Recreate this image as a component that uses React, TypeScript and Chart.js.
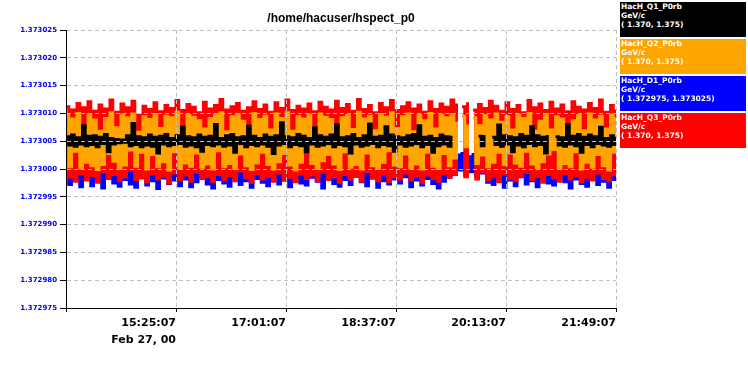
import React, { useEffect, useRef } from "react";
import { Chart, registerables } from "chart.js";

Chart.register(...registerables);

const chartTitle = "/home/hacuser/hspect_p0";

// sampling grid: 13:49:07 .. 21:49:07 (seconds of day), one sample every 144 s
const sampleStartSec = 49747;
const sampleStepSec = 144;
const xMinSec = 49747;
const xMaxSec = 78547;

const xTickValues = [49747, 55507, 61267, 67027, 72787, 78547];
const xTickLabels = ["", "15:25:07", "17:01:07", "18:37:07", "20:13:07", "21:49:07"];
const xDateLabel = "Feb 27, 00";

const yTickValues = [
  1.372975, 1.37298, 1.372985, 1.37299, 1.372995, 1.373, 1.373005, 1.37301, 1.373015, 1.37302, 1.373025,
];
const yMin = 1.372975;
const yMax = 1.373025;

const legendNames = ["HacH_Q1_P0rb", "HacH_Q2_P0rb", "HacH_D1_P0rb", "HacH_Q3_P0rb"];
const legendUnits = ["GeV/c", "GeV/c", "GeV/c", "GeV/c"];
const legendRanges = ["( 1.370, 1.375)", "( 1.370, 1.375)", "( 1.372975, 1.373025)", "( 1.370, 1.375)"];
const legendColors = ["#000000", "#ffa500", "#0000ff", "#ff0000"];

const q1Values = [
  1.3730058, 1.3730043, 1.3730061, 1.3730041, 1.3730056, 1.3730045, 1.3730078, 1.3730042, 1.3730059, 1.3730044,
  1.3730060, 1.3730040, 1.3730057, 1.3730046, 1.3730062, 1.3730031, 1.3730055, 1.3730045, 1.3730053, 1.3730047,
  1.3730052, 1.3730048, 1.3730060, 1.3730042, 1.3730082, 1.3730044, 1.3730058, 1.3730040, 1.3730056, 1.3730043,
  1.3730061, 1.3730041, 1.3730057, 1.3730029, 1.3730059, 1.3730045, 1.3730062, 1.3730042, 1.3730055, 1.3730044,
  1.3730060, 1.3730046, 1.3730075, 1.3730041, 1.3730058, 1.3730043, 1.3730056, 1.3730040, 1.3730061, 1.3730032,
  1.3730057, 1.3730044, 1.3730059, 1.3730042, 1.3730080, 1.3730045, 1.3730055, 1.3730041, 1.3730060, 1.3730043,
  1.3730062, 1.3730030, 1.3730056, 1.3730046, 1.3730058, 1.3730040, 1.3730077, 1.3730044, 1.3730059, 1.3730042,
  1.3730055, 1.3730045, 1.3730061, 1.3730041, 1.3730057, 1.3730028, 1.3730060, 1.3730043, 1.3730083, 1.3730046,
  1.3730058, 1.3730040, 1.3730056, 1.3730044, 1.3730062, 1.3730042, 1.3730059, 1.3730031, 1.3730055, 1.3730045,
  1.3730074, 1.3730041, 1.3730060, 1.3730043, 1.3730057, 1.3730046, 1.3730061, 1.3730040, 1.3730079, 1.3730044,
  1.3730056, 1.3730042, 1.3730058, 1.3730029, 1.3730062, 1.3730045, 1.3730055, 1.3730041, 1.3730060, 1.3730043,
  1.3730081, 1.3730046, 1.3730057, 1.3730040, 1.3730059, 1.3730044, 1.3730076, 1.3730042, 1.3730061, 1.3730032,
  1.3730058, 1.3730045, 1.3730056, 1.3730041, 1.3730060, 1.3730043, 1.3730062, 1.3730046, 1.3730078, 1.3730040,
  1.3730057, 1.3730044, 1.3730059, 1.3730030, 1.3730055, 1.3730042, 1.3730061, 1.3730045, 1.3730058, 1.3730041,
  1.3730060, null, null, null, null, null, null, null, null, null,
  1.3730059, 1.3730042, 1.3730061, null, null, 1.3730057, 1.3730044, 1.3730079, 1.3730041, 1.3730060,
  1.3730045, 1.3730058, 1.3730031, 1.3730056, 1.3730043, 1.3730062, 1.3730040, 1.3730059, 1.3730046, 1.3730076,
  1.3730042, 1.3730060, 1.3730044, 1.3730057, 1.3730029, 1.3730061, null, null, 1.3730058, 1.3730043,
  1.3730056, 1.3730041, 1.3730080, 1.3730045, 1.3730059, 1.3730042, 1.3730062, 1.3730030, 1.3730057, 1.3730044,
  1.3730061, 1.3730040, 1.3730058, 1.3730046, 1.3730075, 1.3730043, 1.3730055, 1.3730041, 1.3730060, 1.3730044,
  1.3730058,
];

const q2Values = [
  1.3730096, 1.3730004, 1.3730090, 1.3730032, 1.3730100, 1.3730002, 1.3730071, 1.3730012, 1.3730098, 1.3730006,
  1.3730088, 1.3729999, 1.3730068, 1.3730008, 1.3730091, 1.3730028, 1.3730101, 1.3730014, 1.3730074, 1.3730001,
  1.3730097, 1.3730007, 1.3730092, 1.3730034, 1.3730099, 1.3730005, 1.3730066, 1.3730030, 1.3730094, 1.3730000,
  1.3730089, 1.3730026, 1.3730098, 1.3730004, 1.3730073, 1.3730013, 1.3730095, 1.3729998, 1.3730092, 1.3730031,
  1.3730102, 1.3730002, 1.3730069, 1.3730011, 1.3730096, 1.3730005, 1.3730093, 1.3730029, 1.3730087, 1.3730003,
  1.3730072, 1.3730009, 1.3730091, 1.3730000, 1.3730097, 1.3730033, 1.3730101, 1.3730004, 1.3730067, 1.3730010,
  1.3730094, 1.3730001, 1.3730098, 1.3730027, 1.3730086, 1.3730006, 1.3730075, 1.3729999, 1.3730100, 1.3730011,
  1.3730089, 1.3730030, 1.3730095, 1.3730008, 1.3730070, 1.3730000, 1.3730099, 1.3730013, 1.3730091, 1.3730028,
  1.3730101, 1.3730007, 1.3730068, 1.3729998, 1.3730094, 1.3730012, 1.3730090, 1.3730032, 1.3730097, 1.3730010,
  1.3730074, 1.3730001, 1.3730099, 1.3730015, 1.3730093, 1.3730026, 1.3730089, 1.3730009, 1.3730066, 1.3729999,
  1.3730092, 1.3730031, 1.3730096, 1.3730003, 1.3730071, 1.3730008, 1.3730102, 1.3730000, 1.3730090, 1.3730029,
  1.3730095, 1.3730006, 1.3730069, 1.3730001, 1.3730098, 1.3730012, 1.3730093, 1.3730033, 1.3730101, 1.3730007,
  1.3730073, 1.3730004, 1.3730094, 1.3730027, 1.3730099, 1.3730002, 1.3730067, 1.3730009, 1.3730096, 1.3730000,
  1.3730087, 1.3730030, 1.3730100, 1.3730005, 1.3730072, 1.3730001, 1.3730097, 1.3730028, 1.3730092, 1.3730006,
  1.3730098, 1.3730020, 1.3730085, null, 1.3730095, 1.3730040, 1.3730080, null, 1.3730092, 1.3730010,
  1.3730078, 1.3730025, 1.3730096, 1.3730004, 1.3730088, 1.3730012, 1.3730099, 1.3730030, 1.3730084, 1.3730008,
  1.3730094, 1.3730029, 1.3730070, 1.3730011, 1.3730097, 1.3730005, 1.3730091, 1.3730032, 1.3730100, 1.3730009,
  1.3730068, 1.3730002, 1.3730086, 1.3730013, 1.3730098, 1.3730027, 1.3730070, 1.3730035, 1.3730094, 1.3730001,
  1.3730090, 1.3730010, 1.3730073, 1.3730004, 1.3730087, 1.3730031, 1.3730096, 1.3730000, 1.3730069, 1.3730012,
  1.3730099, 1.3730003, 1.3730088, 1.3730026, 1.3730095, 1.3730006, 1.3730072, 1.3729998, 1.3730097, 1.3730030,
  1.3730093,
];

const d1Values = [
  1.3730050, 1.3729972, 1.3730045, 1.3729980, 1.3730060, 1.3729968, 1.3730048, 1.3729985, 1.3730055, 1.3729970,
  1.3730042, 1.3729978, 1.3730058, 1.3729966, 1.3730050, 1.3729983, 1.3730047, 1.3729975, 1.3730062, 1.3729969,
  1.3730044, 1.3729981, 1.3730053, 1.3729973, 1.3730049, 1.3729967, 1.3730057, 1.3729986, 1.3730046, 1.3729971,
  1.3730059, 1.3729979, 1.3730043, 1.3729965, 1.3730051, 1.3729984, 1.3730056, 1.3729974, 1.3730048, 1.3729980,
  1.3730061, 1.3729970, 1.3730045, 1.3729982, 1.3730054, 1.3729968, 1.3730050, 1.3729977, 1.3730058, 1.3729987,
  1.3730047, 1.3729973, 1.3730063, 1.3729966, 1.3730052, 1.3729981, 1.3730044, 1.3729975, 1.3730057, 1.3729969,
  1.3730049, 1.3729984, 1.3730055, 1.3729972, 1.3730046, 1.3729979, 1.3730060, 1.3729967, 1.3730051, 1.3729983,
  1.3730043, 1.3729976, 1.3730058, 1.3729970, 1.3730048, 1.3729986, 1.3730054, 1.3729973, 1.3730062, 1.3729980,
  1.3730045, 1.3729968, 1.3730052, 1.3729982, 1.3730059, 1.3729975, 1.3730047, 1.3729971, 1.3730056, 1.3729985,
  1.3730050, 1.3729978, 1.3730044, 1.3729966, 1.3730061, 1.3729983, 1.3730053, 1.3729974, 1.3730046, 1.3729969,
  1.3730057, 1.3729981, 1.3730049, 1.3729972, 1.3730055, 1.3729987, 1.3730042, 1.3729977, 1.3730060, 1.3729970,
  1.3730051, 1.3729984, 1.3730058, 1.3729967, 1.3730046, 1.3729979, 1.3730063, 1.3729973, 1.3730048, 1.3729982,
  1.3730054, 1.3729975, 1.3730043, 1.3729986, 1.3730059, 1.3729968, 1.3730050, 1.3729980, 1.3730056, 1.3729971,
  1.3730047, 1.3729983, 1.3730061, 1.3729974, 1.3730052, 1.3729966, 1.3730045, 1.3729978, 1.3730057, 1.3729985,
  1.3730049, 1.3729992, 1.3730025, 1.3729998, 1.3730028, 1.3729990, 1.3730022, 1.3729995, 1.3730026, 1.3729988,
  1.3730020, 1.3729993, 1.3730055, 1.3729976, 1.3730048, 1.3729972, 1.3730060, 1.3729984, 1.3730046, 1.3729967,
  1.3730053, 1.3729980, 1.3730058, 1.3729970, 1.3730044, 1.3729986, 1.3730062, 1.3729973, 1.3730050, 1.3729979,
  1.3730047, 1.3729968, 1.3730055, 1.3729983, 1.3730059, 1.3729975, 1.3730043, 1.3729971, 1.3730051, 1.3729987,
  1.3730056, 1.3729977, 1.3730048, 1.3729966, 1.3730061, 1.3729982, 1.3730045, 1.3729974, 1.3730054, 1.3729969,
  1.3730050, 1.3729985, 1.3730057, 1.3729972, 1.3730046, 1.3729978, 1.3730063, 1.3729967, 1.3730052, 1.3729981,
  1.3730048,
];

const q3Values = [
  1.3730112, 1.3729985, 1.3730106, 1.3729978, 1.3730118, 1.3729992, 1.3730110, 1.3729980, 1.3730121, 1.3729988,
  1.3730104, 1.3729976, 1.3730115, 1.3729995, 1.3730108, 1.3729983, 1.3730124, 1.3729990, 1.3730102, 1.3729979,
  1.3730117, 1.3729986, 1.3730110, 1.3729998, 1.3730122, 1.3729981, 1.3730096, 1.3729984, 1.3730113, 1.3729977,
  1.3730107, 1.3729991, 1.3730119, 1.3729982, 1.3730103, 1.3729987, 1.3730114, 1.3729975, 1.3730109, 1.3729993,
  1.3730123, 1.3729980, 1.3730105, 1.3729989, 1.3730116, 1.3729978, 1.3730111, 1.3729994, 1.3730101, 1.3729983,
  1.3730120, 1.3729986, 1.3730108, 1.3729977, 1.3730114, 1.3729990, 1.3730125, 1.3729981, 1.3730106, 1.3729988,
  1.3730112, 1.3729979, 1.3730118, 1.3729996, 1.3730104, 1.3729984, 1.3730110, 1.3729976, 1.3730121, 1.3729992,
  1.3730107, 1.3729982, 1.3730115, 1.3729987, 1.3730102, 1.3729978, 1.3730119, 1.3729993, 1.3730109, 1.3729980,
  1.3730124, 1.3729985, 1.3730105, 1.3729977, 1.3730113, 1.3729991, 1.3730108, 1.3729983, 1.3730117, 1.3729989,
  1.3730103, 1.3729979, 1.3730120, 1.3729994, 1.3730111, 1.3729981, 1.3730106, 1.3729986, 1.3730122, 1.3729976,
  1.3730109, 1.3729990, 1.3730116, 1.3729982, 1.3730104, 1.3729988, 1.3730125, 1.3729978, 1.3730107, 1.3729995,
  1.3730114, 1.3729984, 1.3730101, 1.3729979, 1.3730118, 1.3729991, 1.3730110, 1.3729977, 1.3730123, 1.3729986,
  1.3730105, 1.3729982, 1.3730112, 1.3729993, 1.3730119, 1.3729980, 1.3730108, 1.3729987, 1.3730115, 1.3729976,
  1.3730102, 1.3729989, 1.3730121, 1.3729983, 1.3730107, 1.3729978, 1.3730117, 1.3729992, 1.3730111, 1.3729985,
  1.3730124, 1.3729990, 1.3730118, null, 1.3730112, 1.3729986, 1.3730120, null, 1.3730106, 1.3729982,
  1.3730116, 1.3729995, 1.3730109, 1.3729980, 1.3730122, 1.3729988, 1.3730113, 1.3729977, 1.3730104, 1.3729991,
  1.3730119, 1.3729983, 1.3730107, 1.3729979, 1.3730114, 1.3729987, 1.3730101, 1.3729994, 1.3730123, 1.3729981,
  1.3730110, 1.3729986, 1.3730117, 1.3729976, 1.3730105, 1.3729990, 1.3730120, 1.3729984, 1.3730108, 1.3729978,
  1.3730115, 1.3729992, 1.3730103, 1.3729982, 1.3730121, 1.3729988, 1.3730111, 1.3729977, 1.3730106, 1.3729985,
  1.3730118, 1.3729980, 1.3730109, 1.3729993, 1.3730124, 1.3729983, 1.3730102, 1.3729979, 1.3730114, 1.3729989,
  1.3730107,
];

function toPoints(values: (number | null)[]) {
  return values.map((v, i) => ({ x: sampleStartSec + i * sampleStepSec, y: v }));
}

export default function App() {
  const canvasRef = useRef<HTMLCanvasElement>(null);

  useEffect(() => {
    if (!canvasRef.current) return;
    const gridColor = "#c0c0c0";
    const chart = new Chart(canvasRef.current, {
      type: "line",
      data: {
        datasets: [
          { label: legendNames[0], data: toPoints(q1Values), borderColor: legendColors[0], order: 0 },
          { label: legendNames[1], data: toPoints(q2Values), borderColor: legendColors[1], order: 1 },
          { label: legendNames[3], data: toPoints(q3Values), borderColor: legendColors[3], order: 2 },
          { label: legendNames[2], data: toPoints(d1Values), borderColor: legendColors[2], order: 3 },
        ] as any,
      },
      options: {
        responsive: false,
        animation: false,
        events: [],
        layout: { padding: { left: 0, top: 30, right: 132, bottom: 0 } },
        plugins: {
          legend: { display: false },
          title: { display: false },
          tooltip: { enabled: false },
        },
        elements: {
          point: { radius: 0 },
          line: { borderWidth: 3, tension: 0, stepped: true, borderJoinStyle: "miter", fill: false },
        },
        spanGaps: false,
        scales: {
          x: {
            type: "linear",
            min: xMinSec,
            max: xMaxSec,
            afterBuildTicks: (axis: any) => {
              axis.ticks = xTickValues.map((v) => ({ value: v }));
            },
            afterFit: (scale: any) => {
              scale.height = 67;
            },
            ticks: {
              autoSkip: false,
              maxRotation: 0,
              minRotation: 0,
              align: "end",
              padding: 3,
              color: "#000000",
              font: { family: "DejaVu Sans", weight: "bold", size: 11, lineHeight: 1.5 },
              callback: (_v: any, index: number) =>
                index === 1 ? [xTickLabels[1], xDateLabel] : xTickLabels[index],
            },
            grid: {
              z: 1,
              color: gridColor,
              lineWidth: 1,
              drawTicks: true,
              tickLength: 4,
              tickColor: "#000000",
              tickWidth: 1,
            },
            border: { z: 2, display: true, color: "#000000", width: 1, dash: [4, 3] },
          },
          y: {
            type: "linear",
            min: yMin,
            max: yMax,
            afterBuildTicks: (axis: any) => {
              axis.ticks = yTickValues.map((v) => ({ value: v }));
            },
            afterFit: (scale: any) => {
              scale.width = 66;
            },
            ticks: {
              autoSkip: false,
              padding: 3,
              color: "#0000ff",
              font: { family: "DejaVu Sans", weight: "bold", size: 7 },
              callback: (v: any) => Number(v).toFixed(6),
            },
            grid: {
              z: 1,
              color: gridColor,
              lineWidth: 1,
              drawTicks: true,
              tickLength: 6,
              tickColor: "#000000",
              tickWidth: 1,
            },
            border: { z: 2, display: true, color: "#000000", width: 1, dash: [4, 3] },
          },
        },
      } as any,
    });
    return () => chart.destroy();
  }, []);

  return (
    <div
      style={{
        position: "fixed",
        left: 0,
        top: 0,
        width: 748,
        height: 375,
        background: "#ffffff",
        overflow: "hidden",
      }}
    >
      <canvas ref={canvasRef} width={748} height={375} style={{ display: "block" }} />
      <div
        style={{
          position: "absolute",
          left: 66,
          width: 550,
          top: 11,
          textAlign: "center",
          font: "bold 12px 'Liberation Sans', Arial, sans-serif",
          lineHeight: "14px",
          color: "#000000",
        }}
      >
        {chartTitle}
      </div>
      {legendNames.map((name, i) => (
        <div
          key={name}
          style={{
            position: "absolute",
            left: 620,
            top: 2 + i * 37,
            width: 126,
            height: 35,
            boxSizing: "border-box",
            background: legendColors[i],
            color: "#ffffff",
            font: "bold 7.5px 'DejaVu Sans', sans-serif",
            lineHeight: "9px",
            padding: "0 0 0 1px",
            whiteSpace: "pre",
          }}
        >
          <div>{name}</div>
          <div>{legendUnits[i]}</div>
          <div>{legendRanges[i]}</div>
        </div>
      ))}
    </div>
  );
}
